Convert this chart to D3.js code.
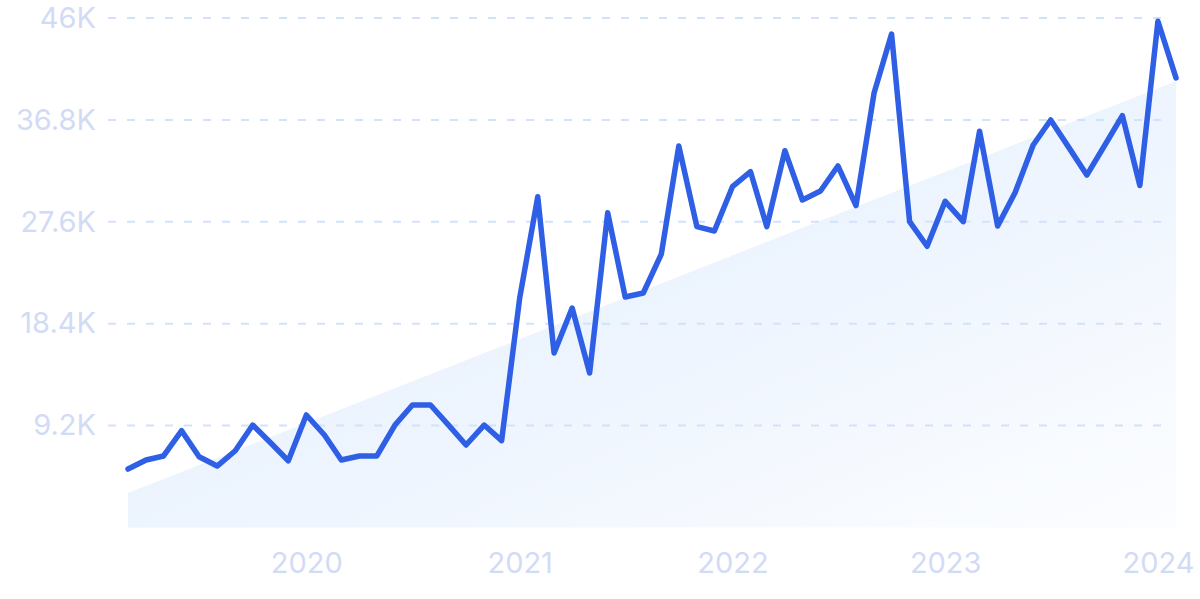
<!DOCTYPE html>
<html>
<head>
<meta charset="utf-8">
<script src="https://cdn.jsdelivr.net/npm/d3@7"></script>
<style>
  html, body { margin: 0; padding: 0; background: #ffffff; }
  svg { display: block; }
  text { font-family: Inter, "Noto Sans", sans-serif; }
</style>
</head>
<body>
<svg id="chart" width="1200" height="599"></svg>
<script>
// ---- data ----
const startMonth = "2019-03";           // first month of the series
const values = [
  5.28, 6.09, 6.46, 8.74, 6.39, 5.55, 6.93, 9.25, 7.63, 6.03,
  10.16, 8.35, 6.09, 6.46, 6.46, 9.25, 11.06, 11.06, 9.25, 7.45,
  9.25, 7.84, 20.72, 29.86, 15.75, 19.82, 13.95, 28.42, 20.81, 21.17,
  24.69, 34.44, 27.16, 26.77, 30.77, 32.12, 27.16, 34.02, 29.57, 30.38,
  32.64, 29.07, 39.23, 44.55, 27.61, 25.39, 29.45, 27.61, 35.78, 27.22,
  30.24, 34.53, 36.79, 34.32, 31.82, 34.44, 37.19, 30.88, 45.71, 40.60
].map(v => v * 1000);
const trendValues = [3110, 40300];       // trend band: first and last month
const yTickValues = [9200, 18400, 27600, 36800, 46000];
const yTickLabels = ["9.2K", "18.4K", "27.6K", "36.8K", "46K"];
const xTickYears = [2020, 2021, 2022, 2023, 2024];

// ---- build ----
const t0 = d3.utcParse("%Y-%m")(startMonth);
const dates = values.map((v, i) => d3.utcMonth.offset(t0, i));
const series = values.map((v, i) => ({ date: dates[i], value: v }));
const trend = [
  { date: dates[0], value: trendValues[0] },
  { date: dates[dates.length - 1], value: trendValues[1] }
];

const svg = d3.select("#chart");
const x = d3.scaleUtc().domain([dates[0], dates[dates.length - 1]]).range([128, 1176]);
const y = d3.scaleLinear().domain([0, 46000]).range([527.5, 18]);

const defs = svg.append("defs");
const grad = defs.append("linearGradient")
  .attr("id", "areaGrad")
  .attr("x1", "0%").attr("y1", "0%").attr("x2", "100%").attr("y2", "100%");
grad.append("stop").attr("offset", "0%").attr("stop-color", "#dfebfc");
grad.append("stop").attr("offset", "55%").attr("stop-color", "#eef5fe");
grad.append("stop").attr("offset", "100%").attr("stop-color", "#fcfdff");

// trend area
svg.append("path")
  .datum(trend)
  .attr("fill", "url(#areaGrad)")
  .attr("d", d3.area().x(d => x(d.date)).y0(y(0)).y1(d => y(d.value)));

// grid lines
svg.append("g")
  .selectAll("line")
  .data(yTickValues)
  .join("line")
  .attr("x1", 108).attr("x2", 1167)
  .attr("y1", d => y(d)).attr("y2", d => y(d))
  .attr("stroke", "#d2e2fc")
  .attr("stroke-width", 2)
  .attr("stroke-dasharray", "8 11");

// y axis labels
const yAxis = d3.axisLeft(y)
  .tickValues(yTickValues)
  .tickFormat((d, i) => yTickLabels[i])
  .tickSize(0)
  .tickPadding(0);
const gy = svg.append("g").attr("transform", "translate(96,0)").call(yAxis);
gy.select(".domain").remove();
gy.selectAll("text")
  .attr("font-size", 29)
  .attr("fill", "#d2dbf6")
  .attr("dy", "0.32em")
  .style("font-family", "Inter, 'Noto Sans', sans-serif");

// x axis labels
const xAxis = d3.axisBottom(x)
  .tickValues(xTickYears.map(yr => new Date(Date.UTC(yr, 0, 1))))
  .tickFormat(d3.utcFormat("%Y"))
  .tickSize(0)
  .tickPadding(0);
const gx = svg.append("g").attr("transform", "translate(0,552)").call(xAxis);
gx.select(".domain").remove();
gx.selectAll("text")
  .attr("font-size", 29)
  .attr("fill", "#d2dbf6")
  .attr("dy", "0.72em")
  .style("font-family", "Inter, 'Noto Sans', sans-serif");

// main line
svg.append("path")
  .datum(series)
  .attr("fill", "none")
  .attr("stroke", "#2e5fe5")
  .attr("stroke-width", 5.5)
  .attr("stroke-linejoin", "round")
  .attr("stroke-linecap", "round")
  .attr("d", d3.line().x(d => x(d.date)).y(d => y(d.value)));
</script>
</body>
</html>
